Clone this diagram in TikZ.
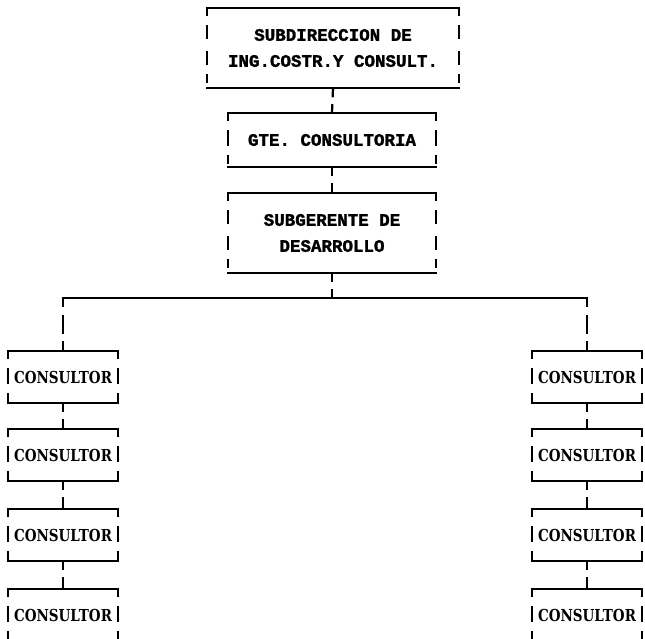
\documentclass[tikz,border=0pt]{standalone}
\usepackage{fontspec}
\newfontfamily\typer{Liberation Mono}[FakeBold=1.6]
\newfontfamily\slab{DejaVu Serif}[FakeStretch=0.82]
% frame of a box: full top and bottom edges, broken sides
\newcommand\orgframe[2]{%
  \draw[frame] (#1.north west) -- (#1.north east);
  \draw[frame] (#1.south west) -- (#1.south east);
  \draw[#2] (#1.north west) -- (#1.south west);
  \draw[#2] (#1.north east) -- (#1.south east);}
\begin{document}
\begin{tikzpicture}[x=1pt,y=-1pt,
  frame/.style={line width=2.2pt,line cap=rect},
  sideone/.style={frame,dash pattern=on 7pt off 11pt on 14pt off 11pt on 7pt},
  sidetwo/.style={frame,dash pattern=on 7pt off 11pt on 12pt off 14pt on 12pt off 11pt on 7pt},
  link/.style={frame,dash pattern=on 8pt off 9pt on 20pt},
  drop/.style={frame,dash pattern=on 8pt off 10pt on 17pt off 9pt on 20pt},
  headbox/.style={inner sep=0pt,align=center,
    font=\typer\bfseries\fontsize{17.5}{26}\selectfont},
  consbox/.style={inner sep=0pt,minimum width=110pt,minimum height=52pt,
    font=\slab\bfseries\fontsize{16.5}{19}\selectfont}]
\useasboundingbox (0,0) rectangle (645,639);

% management chain
\node[headbox,minimum width=252pt,minimum height=80pt] (dir) at (333,48)
  {SUBDIRECCION DE\\ING.COSTR.Y CONSULT.};
\node[headbox,minimum width=208pt,minimum height=54pt] (gte) at (332,140)
  {GTE. CONSULTORIA};
\node[headbox,minimum width=208pt,minimum height=80pt] (sub) at (332,233)
  {SUBGERENTE DE\\DESARROLLO};
\orgframe{dir}{sidetwo}
\orgframe{gte}{sideone}
\orgframe{sub}{sidetwo}

% two columns of consultants
\foreach \i/\y in {1/377,2/455,3/535,4/615}{
  \node[consbox] (L\i) at (63,\y) {CONSULTOR};
  \node[consbox] (R\i) at (587,\y) {CONSULTOR};
  \orgframe{L\i}{sideone}
  \orgframe{R\i}{sideone}
}

% connectors
\coordinate (busL) at (63,298);
\coordinate (busM) at (332,298);
\coordinate (busR) at (587,298);
\draw[link] (dir.south) -- (gte.north);
\draw[link] (gte.south) -- (sub.north);
\draw[link] (sub.south) -- (busM);
\draw[frame] (busL) -- (busR);
\draw[drop] (busL) -- (L1.north);
\draw[drop] (busR) -- (R1.north);
\foreach \a/\b in {1/2,2/3,3/4}{
  \draw[link] (L\a.south) -- (L\b.north);
  \draw[link] (R\a.south) -- (R\b.north);
}
\end{tikzpicture}
\end{document}
